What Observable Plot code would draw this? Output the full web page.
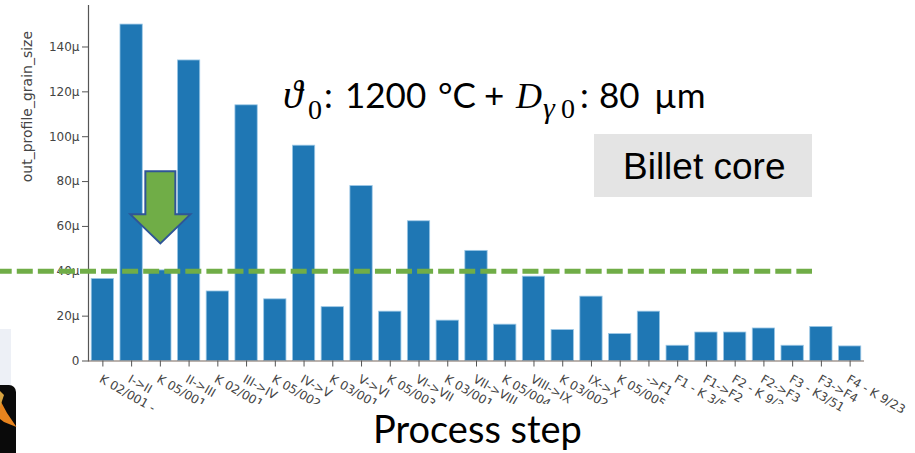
<!DOCTYPE html>
<html><head><meta charset="utf-8">
<script src="https://cdn.jsdelivr.net/npm/d3@7"></script>
<script src="https://cdn.jsdelivr.net/npm/@observablehq/plot@0.6"></script>
<style>
html,body{margin:0;padding:0;background:#fff;width:915px;height:453px;overflow:hidden}
#wrap{position:relative;width:915px;height:453px}
#wrap svg{display:block;position:absolute;left:0;top:0}
.ov{position:absolute;white-space:nowrap;color:#000}
.cal{font-family:Lato,sans-serif;font-size:35px}
.m{font-family:"Liberation Serif",serif;font-style:italic}
.s{font-family:"Liberation Serif",serif;font-size:28px}
</style></head><body><div id="wrap"></div>
<script>
const stepLabels = ["K 02/001 -","I->II","K 05/001","II->III","K 02/001","III->IV","K 05/002","IV->V","K 03/001","V->VI","K 05/003","VI->VII","K 03/001","VII->VIII","K 05/004","VIII->IX","K 03/002","IX->X","K 05/005","->F1","F1 - K 3/5","F1->F2","F2 - K 9/3","F2->F3","F3 - K3/51","F3->F4","F4 - K 9/23"];
const grainSize = [36.6,150,40.4,134,31,114,27.5,96,24,78,22,62.3,18,49.1,16.2,37.6,13.8,28.7,12,22,6.8,12.7,12.7,14.5,6.8,15.2,6.5];
const targetLevel = [40];
const arrowAt = [{step:2, level:68.5}];

const rows = stepLabels.map((label,i)=>({i,label,value:grainSize[i]}));
const arrowSymbol = {draw(c){
  c.moveTo(-15,-36);c.lineTo(15,-36);c.lineTo(15,7);c.lineTo(30,7);c.lineTo(0,36);c.lineTo(-30,7);c.lineTo(-15,7);c.closePath();
}};
const axisColor="#555";
const chart = Plot.plot({
  width:915,height:453,marginLeft:88,marginRight:51,marginTop:5,marginBottom:92.5,
  style:{background:"transparent",fontFamily:"'DejaVu Sans',sans-serif",fontSize:"12px",color:"#444"},
  x:{type:"band",round:false,domain:d3.range(stepLabels.length),paddingInner:0.224,paddingOuter:0.112},
  y:{domain:[0,158.5]},
  marks:[
    Plot.barY(rows,{x:"i",y:"value",fill:"#1f77b4",stroke:"#9cc8e6",strokeWidth:0.8}),
    Plot.frame({anchor:"left",stroke:axisColor,strokeWidth:1.2}),
    Plot.ruleY([0],{stroke:"#77665c",strokeWidth:1.2}),
    Plot.axisY({tickSize:6,tickPadding:3,ticks:[0,20,40,60,80,100,120,140],tickFormat:d=>d===0?"0":d+"µ",label:null,stroke:axisColor,fill:"#444",fontSize:12}),
    Plot.text(["out_profile_grain_size"],{frameAnchor:"left",dx:-61,y:[79.7],rotate:-90,fontSize:14,fill:"#444"}),
    Plot.axisX({tickSize:6,tickPadding:7,tickRotate:30,textAnchor:"start",lineAnchor:"top",tickFormat:i=>stepLabels[i],label:null,stroke:axisColor,fill:"#444",fontSize:12}),
    Plot.ruleY(targetLevel,{stroke:"#70ad47",strokeWidth:5,strokeDasharray:"16,5.07",strokeDashoffset:4.3,insetLeft:-88,insetRight:52}),
    Plot.dot(arrowAt,{x:"step",y:"level",symbol:arrowSymbol,r:30,fill:"#70ad47",stroke:"#2f5597",strokeWidth:2,strokeOpacity:1,fillOpacity:1})
  ]
});
// The source chart cuts off most long tick labels at the bottom of its axis area.
const ns="http://www.w3.org/2000/svg";
const clip=document.createElementNS(ns,"clipPath");
clip.setAttribute("id","tickClip");
[[0,0,915,404],[125,404,40,20],[825,404,30,20],[885,404,30,20]].forEach(([x,y,w,h])=>{
  const r=document.createElementNS(ns,"rect");
  r.setAttribute("x",x);r.setAttribute("y",y);r.setAttribute("width",w);r.setAttribute("height",h);
  clip.appendChild(r);
});
chart.appendChild(clip);
const tl=chart.querySelector('g[aria-label="x-axis tick label"]');
if(tl){
  const holder=document.createElementNS(ns,"g");
  holder.setAttribute("clip-path","url(#tickClip)");
  tl.parentNode.insertBefore(holder,tl);
  holder.appendChild(tl);
}
const wrap=document.getElementById("wrap");
wrap.appendChild(chart);
wrap.insertAdjacentHTML("beforeend",`
<div class="ov" style="left:0;top:329px;width:11px;height:58px;background:#edf0f6"></div>
<svg width="20" height="70" style="left:0;top:383px;position:absolute"><rect x="-10" y="2" width="26" height="90" rx="7" fill="#0a0a0a"/><path d="M0,17 L7,30 L16.5,44 L4,39 L0,36Z" fill="#e8841e"/><path d="M0,8 L4,12 L0,24Z" fill="#d9a441"/></svg>
<div class="ov" style="left:594px;top:134px;width:218px;height:63px;background:#e4e4e4"></div>
<svg width="915" height="453" style="pointer-events:none">
<text class="m" x="283" y="108" font-size="40">ϑ</text>
<text class="s" x="308" y="119">0</text>
<text class="cal" x="324" y="108">:</text>
<text class="cal" x="345" y="108">1200</text>
<text class="cal" x="438" y="108">°C</text>
<text class="cal" x="484" y="108">+</text>
<text class="m" x="516" y="108" font-size="36">D</text>
<text class="m" x="543" y="118" font-size="30">γ</text>
<text class="s" x="561" y="118">0</text>
<text class="cal" x="580" y="108">:</text>
<text class="cal" x="599" y="108">80</text>
<text class="cal" x="654" y="108">µm</text>
<text x="623" y="179" font-family="Liberation Sans" font-size="37">Billet core</text>
<text x="373" y="443" font-family="Lato" font-size="38">Process step</text>
</svg>`);
</script></body></html>
